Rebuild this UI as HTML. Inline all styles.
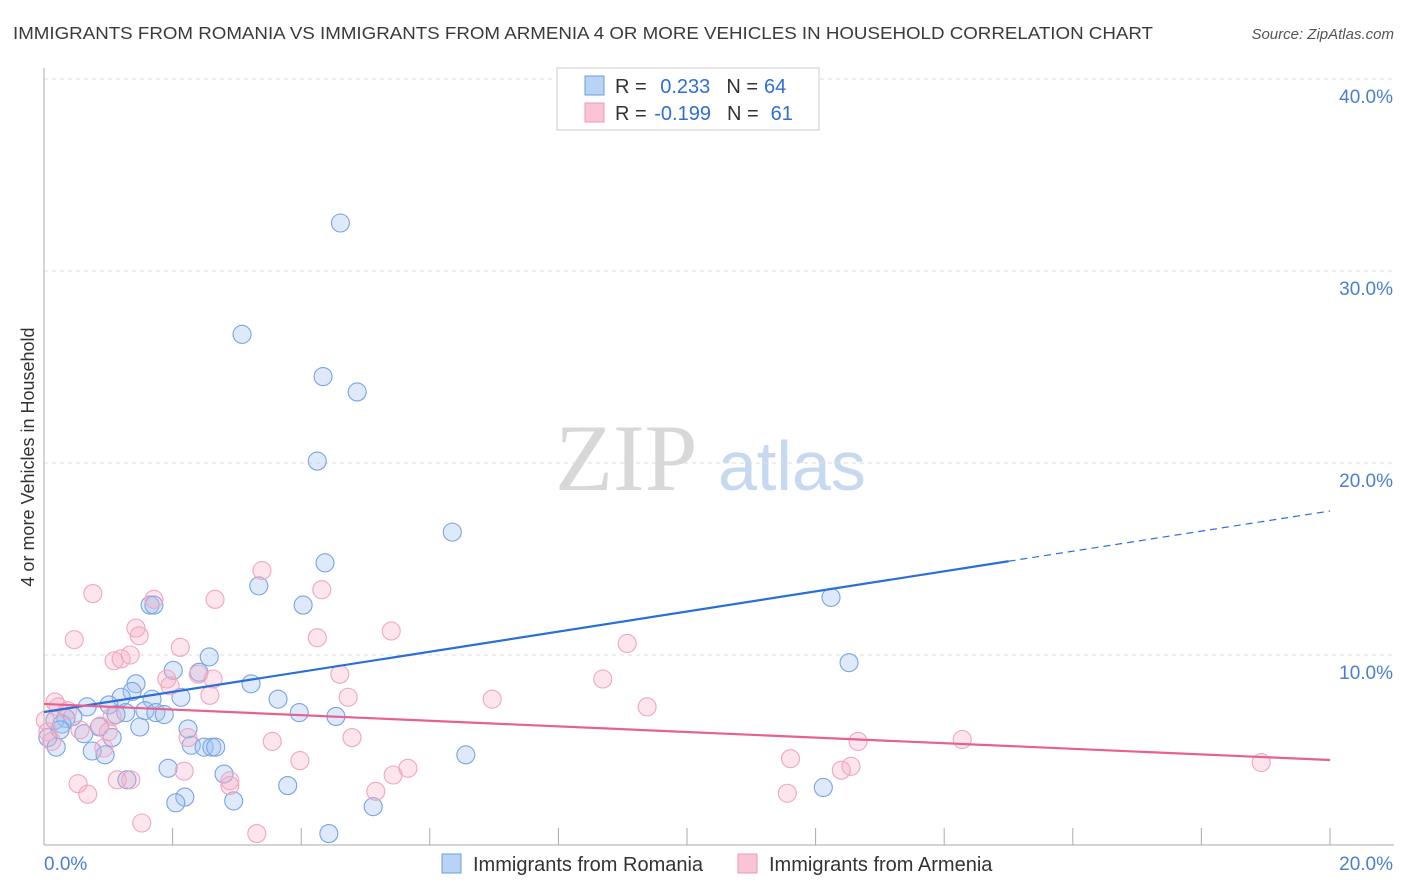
<!DOCTYPE html>
<html><head><meta charset="utf-8"><style>
body{margin:0;background:#fff;font-family:"Liberation Sans",sans-serif}
svg{display:block}
</style></head><body>
<svg id="chart" width="1406" height="892" viewBox="0 0 1406 892">
<text x="13" y="39" font-size="17.5" fill="#3a3a3a" textLength="1140" lengthAdjust="spacingAndGlyphs">IMMIGRANTS FROM ROMANIA VS IMMIGRANTS FROM ARMENIA 4 OR MORE VEHICLES IN HOUSEHOLD CORRELATION CHART</text>
<text x="1394" y="39" font-size="15" fill="#555" font-style="italic" text-anchor="end">Source: ZipAtlas.com</text>
<g>
<text x="555" y="490" font-size="95" font-family="Liberation Serif,serif" fill="#d8d8d8">ZIP</text>
<text x="718" y="490" font-size="70" fill="#c6d9f1">atlas</text>
</g>
<g id="grid"></g>
<g id="axes"></g>
<g id="pts"></g>
<g id="trends"></g>
<text transform="translate(34,457) rotate(-90)" font-size="18" fill="#333" text-anchor="middle">4 or more Vehicles in Household</text>
<g>
<rect x="557" y="68" width="262" height="62" fill="#fff" stroke="#ccc"/>
<rect x="585" y="76" width="19" height="19" fill="#b9d3f5" stroke="#6a9ee0"/>
<rect x="585" y="103" width="19" height="19" fill="#f9c4d4" stroke="#ee99b4"/>
<text x="615" y="93" font-size="20" fill="#333">R = <tspan fill="#2f6fd0" dx="8">0.233</tspan><tspan fill="#333" dx="16">N =</tspan><tspan fill="#2f6fd0" dx="6">64</tspan></text>
<text x="615" y="120" font-size="20" fill="#333">R = <tspan fill="#2f6fd0" dx="2">-0.199</tspan><tspan fill="#333" dx="16">N =</tspan><tspan fill="#2f6fd0" dx="12">61</tspan></text>
</g>
<g>
<rect x="442" y="854" width="19" height="19" fill="#b9d3f5" stroke="#6a9ee0"/>
<text x="473" y="871" font-size="20" fill="#333">Immigrants from Romania</text>
<rect x="738" y="854" width="19" height="19" fill="#f9c4d4" stroke="#ee99b4"/>
<text x="769" y="871" font-size="20" fill="#333">Immigrants from Armenia</text>
</g>
</svg>
<script>
const blueX=[4.61,3.08,4.34,4.87,4.25,6.35,4.37,3.34,4.03,1.65,1.71,12.24,12.52,2.57,2.01,2.41,3.22,1.43,1.37,1.20,1.68,2.13,3.64,1.01,0.67,1.57,1.27,1.74,1.87,3.97,4.54,1.12,0.45,0.34,0.17,0.28,1.49,0.86,2.24,0.25,0.62,1.06,0.06,2.29,2.49,2.61,2.67,0.19,0.75,0.95,6.56,1.93,2.80,1.29,3.79,2.19,2.05,2.95,12.12,5.12,4.43];
const blueY=[32.5,26.7,24.5,23.7,20.1,16.4,14.8,13.6,12.6,12.6,12.6,13.0,9.6,9.9,9.2,9.1,8.5,8.5,8.1,7.8,7.7,7.8,7.7,7.4,7.3,7.1,7.0,7.0,6.9,7.0,6.8,6.9,6.8,6.7,6.6,6.4,6.25,6.25,6.15,6.1,5.9,5.7,5.7,5.3,5.2,5.2,5.2,5.2,5.0,4.8,4.8,4.1,3.8,3.5,3.2,2.6,2.3,2.4,3.1,2.1,0.7];
const pinkX=[3.39,4.32,0.76,1.71,2.66,1.43,1.48,5.40,0.47,4.25,9.07,2.12,1.34,1.09,1.20,4.60,1.91,2.40,2.63,1.96,8.69,2.58,4.73,6.97,9.38,0.17,0.22,0.37,1.06,0.87,0.56,0.06,1.00,2.24,4.79,3.55,0.12,14.28,12.66,0.93,11.61,3.98,18.93,12.55,12.40,5.66,5.43,2.18,1.14,1.35,2.89,0.53,2.89,5.16,0.68,11.56,1.52,3.31,0.02];
const pinkY=[14.4,13.4,13.2,12.9,12.9,11.4,11.0,11.25,10.8,10.9,10.6,10.4,10.0,9.7,9.8,9.0,8.75,9.0,8.75,8.4,8.75,7.9,7.8,7.7,7.3,7.55,7.3,7.1,6.8,6.3,6.1,6.0,6.0,5.7,5.7,5.5,5.5,5.6,5.5,5.15,4.6,4.5,4.4,4.2,4.0,4.1,3.75,3.95,3.5,3.5,3.45,3.3,3.2,2.9,2.75,2.8,1.25,0.7,6.6];
const blueTrend=[7.03,17.5];
const pinkTrend=[7.45,4.53];
const yTicks=[10,20,30,40];
const yTickLabels=["10.0%","20.0%","30.0%","40.0%"];
const xTicks=[2,4,6,8,10,12,14,16,18,20];
const NS="http://www.w3.org/2000/svg";
const sx=v=>44+v*64.3, sy=v=>847-v*19.2;
function mk(tag,attrs,parent){const e=document.createElementNS(NS,tag);for(const k in attrs)e.setAttribute(k,attrs[k]);document.getElementById(parent).appendChild(e);return e;}
yTicks.forEach((t,i)=>{
 const g=mk('line',{x1:44,x2:1394,y1:sy(t),y2:sy(t),stroke:'#ddd','stroke-dasharray':'4,4'},'grid');
 
 
 const l=mk('text',{x:1393,y:sy(t)+24,'font-size':19,fill:'#4a7fd0','text-anchor':'end'},'axes');
 l.textContent=yTickLabels[i];
 
 
});
const ya=mk('line',{x1:44,x2:44,y1:68,y2:845,stroke:'#aaa'},'axes');


const xa=mk('line',{x1:44,x2:1394,y1:845,y2:845,stroke:'#aaa'},'axes');


xTicks.forEach(t=>{
 const k=mk('line',{x1:sx(t),x2:sx(t),y1:828,y2:845,stroke:'#aaa'},'axes');
 
 
});
const x0=mk('text',{x:44,y:870,'font-size':19,fill:'#4a7fd0'},'axes');x0.textContent='0.0%';


const x1=mk('text',{x:1393,y:870,'font-size':19,fill:'#4a7fd0','text-anchor':'end'},'axes');x1.textContent='20.0%';


blueX.forEach((x,i)=>{
 const c=mk('circle',{cx:sx(x),cy:sy(blueY[i]),r:9,fill:'rgba(160,196,240,0.35)',stroke:'#78a4e2','stroke-width':1.1},'pts');
 
 
});
pinkX.forEach((x,i)=>{
 const c=mk('circle',{cx:sx(x),cy:sy(pinkY[i]),r:9,fill:'rgba(245,170,195,0.3)',stroke:'#f0a6be','stroke-width':1.1},'pts');
 
 
});
const bAt=x=>blueTrend[0]+(blueTrend[1]-blueTrend[0])*x/20;
const bs=mk('line',{x1:sx(0),y1:sy(bAt(0)),x2:sx(15),y2:sy(bAt(15)),stroke:'#2a6fd6','stroke-width':2.2},'trends');


const bd=mk('line',{x1:sx(15),y1:sy(bAt(15)),x2:sx(20),y2:sy(bAt(20)),stroke:'#2a6fd6','stroke-width':1.2,'stroke-dasharray':'7,5'},'trends');


const pl=mk('line',{x1:sx(0),y1:sy(pinkTrend[0]),x2:sx(20),y2:sy(pinkTrend[1]),stroke:'#e8608e','stroke-width':2.2},'trends');


</script>
</body></html>
